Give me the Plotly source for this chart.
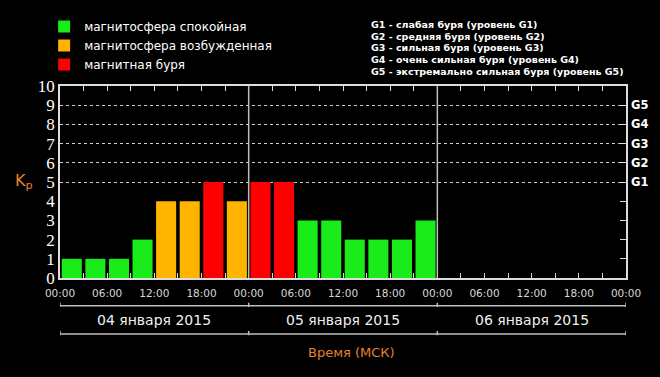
import plotly.graph_objects as go

# Kp index, 3-hour intervals starting 04 Jan 2015 00:00 MSK
kp_values = [1, 1, 1, 2, 4, 4, 5, 4,   # 04 января
             5, 5, 3, 3, 2, 2, 2, 3]   # 05 января
interval_hours = 3
hour_ticks = list(range(0, 73, 3))
hour_labels = [f"{h % 24:02d}:00" if h % 6 == 0 else "" for h in hour_ticks]
day_bounds = [0, 24, 48, 72]
day_labels = ["04 января 2015", "05 января 2015", "06 января 2015"]
g_levels = [5, 6, 7, 8, 9]
g_labels = ["G1", "G2", "G3", "G4", "G5"]
g_legend = ["G1 - слабая буря (уровень G1)",
            "G2 - средняя буря (уровень G2)",
            "G3 - сильная буря (уровень G3)",
            "G4 - очень сильная буря (уровень G4)",
            "G5 - экстремально сильная буря (уровень G5)"]

categories = [
    ("магнитосфера спокойная", "#19ec19", lambda v: v < 4),
    ("магнитосфера возбужденная", "#ffb400", lambda v: v == 4),
    ("магнитная буря", "#ff0000", lambda v: v >= 5),
]

centers = [i * interval_hours + interval_hours / 2 for i in range(len(kp_values))]

fig = go.Figure()
for name, color, rule in categories:
    xs = [c for c, v in zip(centers, kp_values) if rule(v)]
    ys = [v for v in kp_values if rule(v)]
    fig.add_trace(go.Bar(x=xs, y=ys, name=name, width=2.55,
                         marker=dict(color=color, line=dict(width=0)),
                         hoverinfo="skip"))
# empty trace so that the right-hand G-scale axis is drawn
fig.add_trace(go.Scatter(x=[None], y=[None], yaxis="y2", showlegend=False,
                         hoverinfo="skip", mode="markers"))

frame = "#dcdcdc"
fig.update_layout(
    width=660, height=377,
    paper_bgcolor="black", plot_bgcolor="black",
    margin=dict(l=60, r=34, t=86, b=99),
    barmode="overlay",
    showlegend=True,
    legend=dict(x=-0.028, y=1.385, xanchor="left", yanchor="top",
                bgcolor="rgba(0,0,0,0)",
                font=dict(family="DejaVu Sans", size=12, color="white"),
                itemwidth=30, tracegroupgap=0),
    xaxis=dict(range=[0, 72], tickvals=hour_ticks, ticktext=hour_labels,
               ticks="inside", ticklen=5, tickcolor=frame,
               showline=True, linecolor=frame, linewidth=1.5, mirror="ticks",
               showgrid=False, zeroline=False, ticklabelstandoff=5,
               tickfont=dict(family="DejaVu Sans", size=10.5, color="#d8d8d8")),
    yaxis=dict(range=[0, 10], tickvals=list(range(11)),
               ticks="", showline=True, linecolor=frame, linewidth=1.5, mirror=True,
               showgrid=False, zeroline=False,
               tickfont=dict(family="Liberation Serif", size=17, color="white")),
    yaxis2=dict(range=[0, 10], overlaying="y", side="right", anchor="x",
                tickvals=g_levels, ticktext=g_labels,
                ticks="inside", ticklen=6, tickcolor=frame,
                showgrid=True, gridcolor="#cfcfcf", griddash="dot", gridwidth=1,
                zeroline=False, showline=False, ticklabelstandoff=4,
                minor=dict(dtick=1, ticks="inside", ticklen=6, tickcolor=frame, showgrid=False),
                tickfont=dict(family="DejaVu Sans", size=11.5, color="white", weight="bold")),
)

# day separators
for b in day_bounds[1:-1]:
    fig.add_shape(type="line", xref="x", yref="y", x0=b, x1=b, y0=0, y1=10,
                  line=dict(color="#bdbdbd", width=1.5))

# bracket lines under the axis
for ybr in (-0.145, -0.292):
    fig.add_shape(type="line", xref="x", yref="paper", x0=day_bounds[0], x1=day_bounds[-1],
                  y0=ybr, y1=ybr, line=dict(color="#bdbdbd", width=1.5))
    for b in day_bounds:
        fig.add_shape(type="line", xref="x", yref="paper", x0=b, x1=b,
                      y0=ybr - 0.006, y1=ybr + 0.016, line=dict(color="#bdbdbd", width=1.5))

for i, lab in enumerate(day_labels):
    fig.add_annotation(x=(day_bounds[i] + day_bounds[i + 1]) / 2, y=-0.219,
                       xref="x", yref="paper", xanchor="center", yanchor="middle",
                       text=lab, showarrow=False,
                       font=dict(family="DejaVu Sans", size=14, color="#f0f0f0"))

fig.add_annotation(x=0.515, y=-0.39, xref="paper", yref="paper",
                   xanchor="center", yanchor="middle", text="Время (МСК)",
                   showarrow=False, font=dict(family="DejaVu Sans", size=13, color="#e8822e"))

fig.add_annotation(x=-0.044, y=0.505, xref="paper", yref="paper", xanchor="right",
                   yanchor="middle", text="K<sub>p</sub>",
                   showarrow=False, font=dict(family="DejaVu Sans", size=16, color="#e8822e"))

for i, line in enumerate(g_legend):
    fig.add_annotation(x=0.546, y=1.318 - i * 0.06, xref="paper", yref="paper",
                       xanchor="left", yanchor="middle",
                       text=line, align="left", showarrow=False,
                       font=dict(family="DejaVu Sans", size=9.5, color="white", weight="bold"))

fig.write_html("out.html")
